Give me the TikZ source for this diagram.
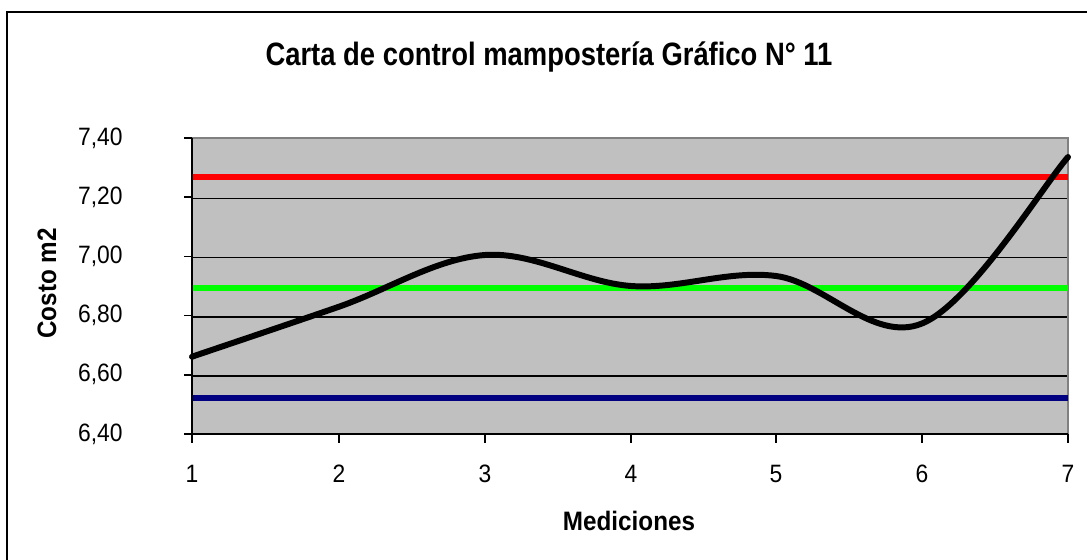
\documentclass[tikz,border=0pt]{standalone}
\usepackage{fontspec}
\setmainfont{Liberation Sans}
\newcommand{\tallertext}[2]{\scalebox{1}[#1]{#2}}
\begin{document}
\begin{tikzpicture}[x=0.02cm,y=-0.02cm,
  frameline/.style={draw=black,line width=1.2pt},
  gridline/.style={draw=black,line width=0.8pt},
  axisline/.style={draw=black,line width=1.1pt},
  tickmark/.style={draw=black,line width=0.9pt},
  limitline/.style={line width=3.3pt},
  dataline/.style={draw=black,line width=3.4pt,line cap=round,line join=round},
  ticklabel/.style={inner sep=0pt,font=\fontsize{13}{15}\selectfont},
  axistitle/.style={inner sep=0pt,font=\fontsize{13.8}{16}\selectfont\bfseries},
  charttitle/.style={inner sep=0pt,font=\fontsize{15.6}{18}\selectfont\bfseries}]
\useasboundingbox (0,0) rectangle (1087,560);
% outer chart frame (only left and top visible)
\draw[frameline] (7,560) -- (7,12) -- (1087,12);
% plot area
\fill[fill={rgb,255:red,192;green,192;blue,192}] (192,138) rectangle (1068,434);
% gridlines
\foreach \yy in {198.4,257.6,316.8,376} {\draw[gridline] (192,\yy) -- (1068,\yy);}
\draw[draw={rgb,255:red,128;green,128;blue,128},line width=0.9pt] (192,138) -- (1068,138) -- (1068,434);
% control limits
\draw[limitline,draw={rgb,255:red,255;green,0;blue,0}] (192,176.7) -- (1068,176.7);
\draw[limitline,draw={rgb,255:red,0;green,255;blue,0}] (192,287.7) -- (1068,287.7);
\draw[limitline,draw={rgb,255:red,0;green,0;blue,128}] (192,398.3) -- (1068,398.3);
% data points
\coordinate (p1) at (192,356.7);
\coordinate (p2) at (339,306.7);
\coordinate (p3) at (485,255);
\coordinate (p4) at (631,286);
\coordinate (p5) at (776,276);
\coordinate (p6) at (922,323.5);
\coordinate (p7) at (1068,157);
\draw[dataline] (p1)
  .. controls (216.3,348.4) and (290.2,323.65) .. (p2)
  .. controls (387.8,289.75) and (436.3,258.45) .. (p3)
  .. controls (533.7,251.55) and (582.5,282.5) .. (p4)
  .. controls (679.5,289.5) and (727.5,269.75) .. (p5)
  .. controls (824.5,282.25) and (873.3,343.3) .. (p6)
  .. controls (970.7,303.7) and (1043.7,184.75) .. (p7);
% axes
\draw[axisline] (192,138) -- (192,434) -- (1068,434);
% y ticks and labels
\foreach \yy/\lab in {138/{7,40},197.2/{7,20},256.4/{7,00},315.6/{6,80},374.8/{6,60},434/{6,40}} {
  \draw[tickmark] (184,\yy) -- (192,\yy);
  \node[ticklabel,anchor=east] at (123,\yy) {\tallertext{1.1}{\lab}};
}
% x ticks and labels
\foreach \xx/\lab in {192/1,339/2,485/3,631/4,776/5,922/6,1068/7} {
  \draw[tickmark] (\xx,434) -- (\xx,443);
  \node[ticklabel,anchor=center] at (\xx,474) {\tallertext{1.1}{\lab}};
}
% titles
\node[charttitle,anchor=base] (title) at (549,66) {\tallertext{1.18}{Carta de control mampostería Gráfico N° 11}};
\node[axistitle,anchor=base] (xtitle) at (629,530) {\tallertext{1.1}{Mediciones}};
\node[axistitle,anchor=base,rotate=90] (ytitle) at (56,283.5) {\tallertext{1.1}{Costo m2}};
\end{tikzpicture}
\end{document}
